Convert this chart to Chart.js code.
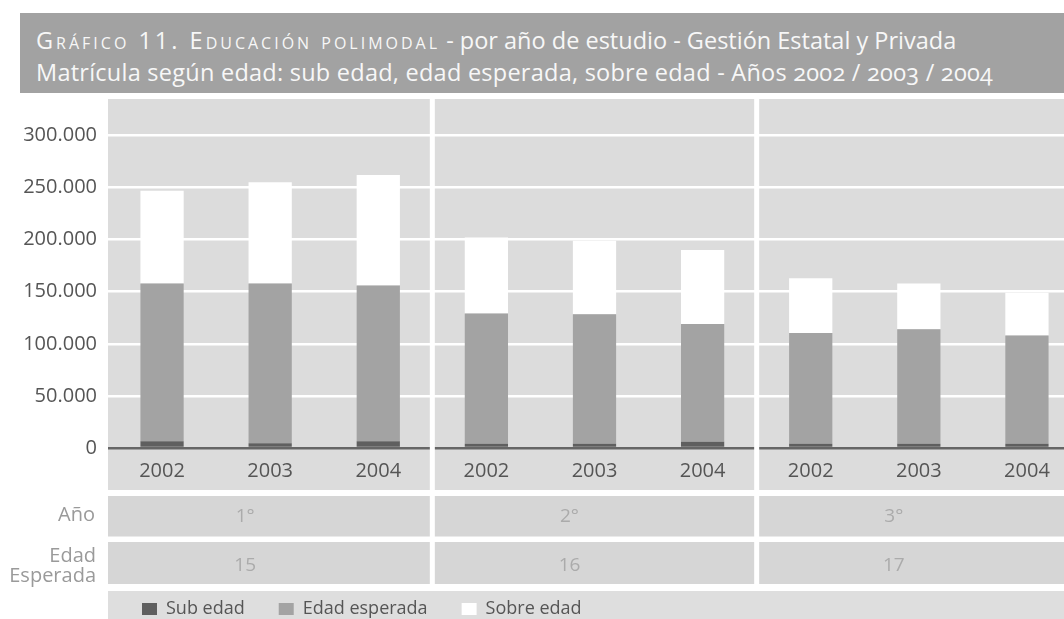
<!DOCTYPE html>
<html lang="es">
<head>
<meta charset="utf-8">
<title>Gráfico 11. Educación polimodal</title>
<script src="https://cdn.jsdelivr.net/npm/chart.js@4.4.1/dist/chart.umd.min.js"></script>
<style>
  html, body { margin: 0; width: 1064px; height: 619px; overflow: hidden; background: #fff; }
  #titulo {
    position: absolute; left: 20px; top: 13px; right: 0; height: 80px;
    box-sizing: border-box; padding: 11px 0 0 16px;
    background: #a2a2a2; color: #f7f7f7;
    font-family: 'Open Sans', sans-serif; font-size: 23.5px; line-height: 32px;
    font-variant-numeric: oldstyle-nums; white-space: nowrap; z-index: 2;
  }
  .sc { font-variant: small-caps; letter-spacing: 3px; }
  .l2 { letter-spacing: 0.25px; }
  #grafico { position: absolute; left: 0; top: 0; }
</style>
</head>
<body>
<div id="titulo"><span class="sc">Gráfico 11. Educación polimodal</span> - por año de estudio - Gestión Estatal y Privada<br><span class="l2">Matrícula según edad: sub edad, edad esperada, sobre edad - Años 2002 / 2003 / 2004</span></div>
<canvas id="grafico" width="1081" height="628"></canvas>
<script>
// Categories
const grados = ['1°', '2°', '3°'];
const edades = ['15', '16', '17'];
const anios = ['2002', '2003', '2004'];
const yTicks = [0, 50000, 100000, 150000, 200000, 250000, 300000];

// Series (1° 2002..2004, 2° 2002..2004, 3° 2002..2004)
const subEdad      = [6500, 4500, 6500, 4000, 4000, 6000, 4000, 4000, 4000];
const edadEsperada = [151500, 153500, 149500, 125000, 124500, 113000, 106500, 110000, 104000];
const sobreEdad    = [89000, 97000, 106000, 73000, 70500, 71000, 52500, 44000, 41000];

const etiquetas = grados.flatMap(() => anios);
const fuente = "'Open Sans', sans-serif";

function miles(v) {
    return String(v).replace(/\B(?=(\d{3})+(?!\d))/g, '.');
}

// Gray panels, white separators and the Año / Edad esperada rows
const fondo = {
    id: 'fondo',
    beforeDraw(chart) {
        const { ctx, chartArea: a, width, height } = chart;
        const base = a.bottom;
        const w = width - a.left;
        ctx.save();
        ctx.fillStyle = '#dcdcdc';
        ctx.fillRect(a.left, a.top, w, base + 42 - a.top);
        ctx.fillStyle = '#d6d6d6';
        ctx.fillRect(a.left, base + 48, w, 40.5);
        ctx.fillRect(a.left, base + 94, w, 42);
        ctx.fillStyle = '#dedede';
        ctx.fillRect(a.left, base + 143, w, height - base - 143);
        ctx.restore();
    },
    beforeDatasetsDraw(chart) {
        const { ctx, chartArea: a, scales: { x } } = chart;
        ctx.save();
        ctx.fillStyle = '#ffffff';
        for (let i = 1; i < grados.length; i++) {
            const px = x.getPixelForValue(i * anios.length - 0.5);
            ctx.fillRect(px - 2.5, a.top, 5, a.bottom + 136 - a.top);
        }
        ctx.restore();
    },
    afterDraw(chart) {
        const { ctx, chartArea: a, scales: { x } } = chart;
        const base = a.bottom;
        ctx.save();
        ctx.textBaseline = 'middle';
        ctx.font = '20px ' + fuente;
        ctx.fillStyle = '#9a9a9a';
        ctx.textAlign = 'right';
        ctx.fillText('Año', 95, base + 67);
        ctx.fillText('Edad', 96, base + 108);
        ctx.fillText('Esperada', 96, base + 128);

        ctx.font = '19px ' + fuente;
        ctx.fillStyle = '#ababab';
        ctx.textAlign = 'center';
        grados.forEach((g, i) => {
            const cx = x.getPixelForValue(i * anios.length + 1) - 25;
            ctx.fillText(g, cx, base + 69);
            ctx.fillText(edades[i], cx, base + 118);
        });
        ctx.restore();
    }
};

new Chart(document.getElementById('grafico'), {
    type: 'bar',
    data: {
        labels: etiquetas,
        datasets: [
            { label: 'Sub edad', data: subEdad, backgroundColor: '#5f5f5f' },
            { label: 'Edad esperada', data: edadEsperada, backgroundColor: '#a3a3a3' },
            { label: 'Sobre edad', data: sobreEdad, backgroundColor: '#ffffff' },
        ],
    },
    options: {
        responsive: false,
        animation: false,
        layout: { padding: { top: 99, left: 0, right: 0, bottom: 0 } },
        datasets: { bar: { categoryPercentage: 1, barPercentage: 0.4, borderWidth: 0 } },
        scales: {
            x: {
                stacked: true,
                offset: true,
                grid: { display: false, drawTicks: false },
                border: { display: false },
                ticks: { color: '#555', padding: 11, font: { family: fuente, size: 20 } },
                afterFit: s => { s.height = 118; },
            },
            y: {
                stacked: true,
                min: 0,
                max: 335000,
                border: { display: false },
                grid: {
                    drawTicks: false,
                    color: c => (c.tick && c.tick.value === 0 ? '#666666' : '#ffffff'),
                    lineWidth: 2.5,
                },
                afterBuildTicks: s => { s.ticks = yTicks.map(v => ({ value: v })); },
                ticks: {
                    color: '#555',
                    padding: 11,
                    font: { family: fuente, size: 20 },
                    callback: v => miles(v),
                },
                afterFit: s => { s.width = 108; },
            },
        },
        plugins: {
            legend: {
                position: 'bottom',
                align: 'start',
                fullSize: false,
                labels: {
                    boxWidth: 15,
                    boxHeight: 12,
                    padding: 34,
                    color: '#555',
                    font: { family: fuente, size: 18 },
                },
            },
            tooltip: { enabled: false },
        },
    },
    plugins: [fondo],
});
</script>
</body>
</html>
